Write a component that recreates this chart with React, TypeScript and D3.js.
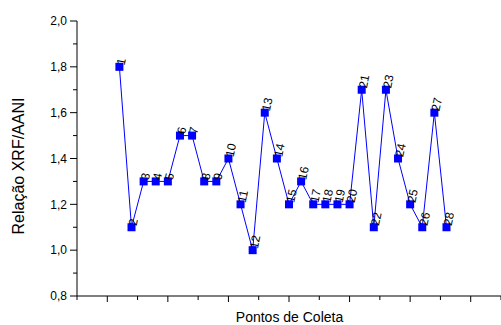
import React from "react";
import * as d3 from "d3";

const points: number[] = [1,2,3,4,5,6,7,8,9,10,11,12,13,14,15,16,17,18,19,20,21,22,23,24,25,26,27,28];
const ratios: number[] = [1.8,1.1,1.3,1.3,1.3,1.5,1.5,1.3,1.3,1.4,1.2,1.0,1.6,1.4,1.2,1.3,1.2,1.2,1.2,1.2,1.7,1.1,1.7,1.4,1.2,1.1,1.6,1.1];
const yMajorTicks: number[] = [0.8,1.0,1.2,1.4,1.6,1.8,2.0];
const yMinorTicks: number[] = [0.9,1.1,1.3,1.5,1.7,1.9];
const xMajorTicks: number[] = [0,5,10,15,20,25,30];
const xMinorTicks: number[] = [-2.5,2.5,7.5,12.5,17.5,22.5,27.5,32.5];

const W = 501, H = 325;
const FONT = "'Liberation Sans', Arial, sans-serif";

export default function App() {
  const x = d3.scaleLinear().domain([-2.5, 32.5]).range([77, 501]);
  const y = d3.scaleLinear().domain([0.8, 2.0]).range([296, 21]);
  const data = points.map((p, i) => ({ p, v: ratios[i] }));
  const line = d3.line<{ p: number; v: number }>().x(d => x(d.p)).y(d => y(d.v));
  const fmt = (v: number) => v.toFixed(1).replace(".", ",");
  const ms = 8;
  return (
    <svg width={W} height={H} style={{ position: "absolute", left: 0, top: 0, background: "#fff" }}>
      <line x1={77} x2={77} y1={y(2.0)} y2={y(0.8)} stroke="#000" strokeWidth={1} />
      <line x1={77} x2={501} y1={296} y2={296} stroke="#000" strokeWidth={1} />
      {yMajorTicks.map(t => (
        <g key={"ym" + t}>
          <line x1={70} x2={77} y1={y(t)} y2={y(t)} stroke="#000" />
          <text x={67} y={y(t)} dy="0.35em" textAnchor="end" fontFamily={FONT} fontSize={12} fill="#000">{fmt(t)}</text>
        </g>
      ))}
      {yMinorTicks.map(t => (
        <line key={"yn" + t} x1={73} x2={77} y1={y(t)} y2={y(t)} stroke="#000" />
      ))}
      {xMajorTicks.map(t => (
        <line key={"xm" + t} x1={x(t)} x2={x(t)} y1={296} y2={302} stroke="#000" />
      ))}
      {xMinorTicks.map(t => (
        <line key={"xn" + t} x1={x(t)} x2={x(t)} y1={296} y2={300} stroke="#000" />
      ))}
      <text x={289.5} y={322} textAnchor="middle" fontFamily={FONT} fontSize={14} fill="#000">Pontos de Coleta</text>
      <text transform={`translate(24,166) rotate(-90)`} textAnchor="middle" fontFamily={FONT} fontSize={16} fill="#000">Relação XRF/AANI</text>
      <path d={line(data) || ""} fill="none" stroke="#0000ff" strokeWidth={1} />
      {data.map(d => (
        <rect key={"m" + d.p} x={x(d.p) - ms / 2} y={y(d.v) - ms / 2} width={ms} height={ms} fill="#0000ff" />
      ))}
      {data.map(d => (
        <text key={"l" + d.p} transform={`translate(${x(d.p) + 5},${y(d.v) - 1}) rotate(-78)`} fontFamily={FONT} fontSize={12} fill="#000">{d.p}</text>
      ))}
    </svg>
  );
}
